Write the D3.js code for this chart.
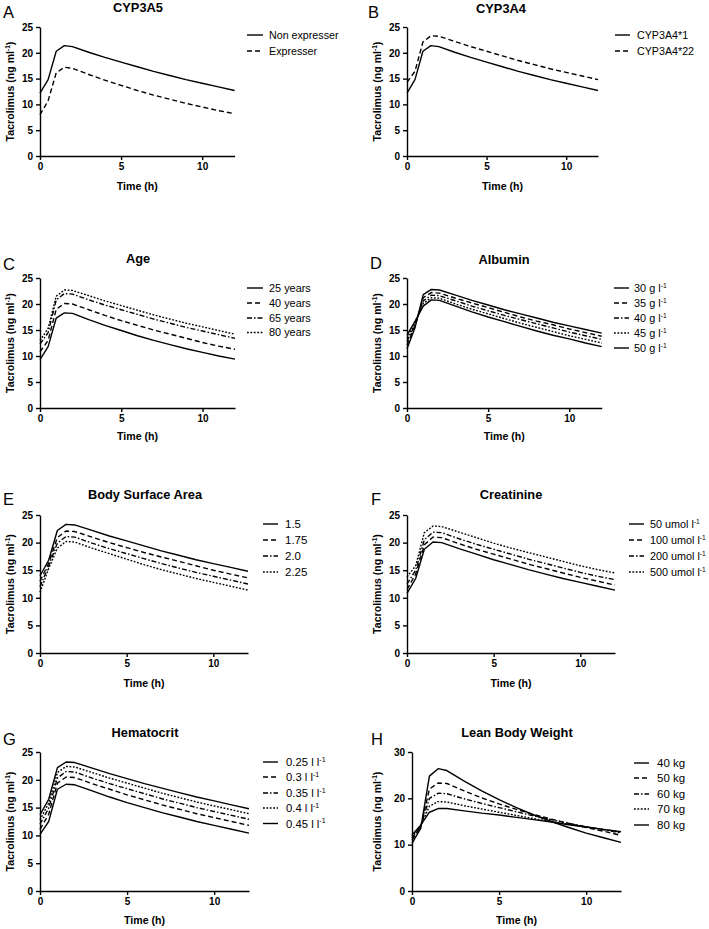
<!DOCTYPE html>
<html>
<head>
<meta charset="utf-8">
<script src="https://cdn.jsdelivr.net/npm/d3@7"></script>
<style>
  html, body { margin: 0; padding: 0; background: #fff; }
  svg { display: block; }
  text { font-family: "Liberation Sans", Arial, sans-serif; fill: #000; }
</style>
</head>
<body>
<svg id="chart" width="709" height="929"></svg>
<script>
// ---------------- DATA ----------------
const time = [0, 0.5, 1, 1.5, 2, 3, 4, 5, 6, 7, 8, 9, 10, 11, 12];
const xTicks = [0, 5, 10];
const yTicks25 = [0, 5, 10, 15, 20, 25];
const yTicks30 = [0, 10, 20, 30];

// A: CYP3A5
const cyp3a5Labels = ["Non expresser", "Expresser"];
const cyp3a5NonExpresser = [12.2, 14.8, 20.3, 21.4, 21.2, 20.1, 19.1, 18.2, 17.3, 16.4, 15.6, 14.8, 14.1, 13.4, 12.7];
const cyp3a5Expresser    = [8.0, 10.7, 16.1, 17.2, 17.0, 15.8, 14.7, 13.7, 12.7, 11.8, 11.0, 10.2, 9.5, 8.8, 8.2];

// B: CYP3A4
const cyp3a4Labels = ["CYP3A4*1", "CYP3A4*22"];
const cyp3a4star1  = [12.2, 14.8, 20.3, 21.4, 21.2, 20.1, 19.1, 18.2, 17.3, 16.4, 15.6, 14.8, 14.1, 13.4, 12.7];
const cyp3a4star22 = [14.3, 16.4, 22.1, 23.3, 23.2, 22.2, 21.2, 20.3, 19.4, 18.5, 17.7, 16.9, 16.2, 15.5, 14.8];

// C: Age
const ageLabels = ["25 years", "40 years", "65 years", "80 years"];
const age25 = [9.3, 11.8, 17.3, 18.3, 18.2, 17.0, 15.9, 14.9, 13.9, 13.0, 12.2, 11.4, 10.7, 10.0, 9.4];
const age40 = [10.8, 13.0, 19.0, 20.1, 20.0, 18.9, 17.8, 16.8, 15.9, 15.0, 14.2, 13.4, 12.6, 11.9, 11.3];
const age65 = [12.3, 14.5, 20.8, 22.0, 21.9, 20.8, 19.8, 18.9, 18.0, 17.1, 16.3, 15.5, 14.8, 14.1, 13.4];
const age80 = [13.0, 15.3, 21.5, 22.7, 22.6, 21.6, 20.6, 19.7, 18.8, 17.9, 17.1, 16.3, 15.6, 14.9, 14.2];

// D: Albumin
const albuminLabels = ["30 g l^-1", "35 g l^-1", "40 g l^-1", "45 g l^-1", "50 g l^-1"];
const alb30 = [11.4, 15.5, 21.8, 22.8, 22.7, 21.7, 20.7, 19.8, 18.9, 18.1, 17.3, 16.5, 15.8, 15.1, 14.4];
const alb35 = [12.1, 15.8, 21.2, 22.2, 22.1, 21.1, 20.2, 19.3, 18.4, 17.5, 16.7, 16.0, 15.2, 14.5, 13.8];
const alb40 = [12.8, 16.1, 20.6, 21.7, 21.6, 20.6, 19.6, 18.7, 17.8, 17.0, 16.2, 15.4, 14.6, 13.9, 13.2];
const alb45 = [13.4, 16.4, 20.1, 21.2, 21.1, 20.0, 19.0, 18.1, 17.2, 16.3, 15.5, 14.7, 13.9, 13.2, 12.5];
const alb50 = [14.0, 16.7, 19.6, 20.8, 20.7, 19.6, 18.5, 17.5, 16.6, 15.7, 14.8, 14.0, 13.3, 12.5, 11.8];

// E: Body Surface Area
const bsaLabels = ["1.5", "1.75", "2.0", "2.25"];
const bsa150 = [14.0, 16.8, 22.2, 23.3, 23.2, 22.2, 21.2, 20.3, 19.4, 18.5, 17.7, 16.9, 16.2, 15.5, 14.8];
const bsa175 = [13.0, 16.3, 20.9, 22.1, 22.0, 21.0, 20.0, 19.1, 18.2, 17.4, 16.6, 15.8, 15.0, 14.3, 13.6];
const bsa200 = [12.0, 15.8, 19.9, 21.1, 21.0, 19.9, 18.9, 18.0, 17.1, 16.2, 15.4, 14.6, 13.9, 13.2, 12.5];
const bsa225 = [11.0, 15.3, 19.0, 20.2, 20.1, 19.0, 18.0, 17.0, 16.0, 15.1, 14.3, 13.5, 12.8, 12.1, 11.4];

// F: Creatinine
const creatLabels = ["50 umol l^-1", "100 umol l^-1", "200 umol l^-1", "500 umol l^-1"];
const creat50  = [10.8, 13.5, 18.8, 20.1, 20.0, 18.9, 17.9, 16.9, 16.0, 15.1, 14.3, 13.5, 12.8, 12.1, 11.4];
const creat100 = [11.5, 14.3, 19.6, 21.0, 20.9, 19.8, 18.8, 17.9, 17.0, 16.1, 15.3, 14.5, 13.7, 13.0, 12.3];
const creat200 = [12.5, 15.0, 20.5, 21.9, 21.8, 20.7, 19.7, 18.8, 17.9, 17.0, 16.2, 15.4, 14.6, 13.9, 13.3];
const creat500 = [13.8, 15.8, 21.8, 23.0, 22.9, 21.9, 20.9, 19.9, 19.0, 18.2, 17.4, 16.6, 15.8, 15.1, 14.5];

// G: Hematocrit
const hctLabels = ["0.25 l l^-1", "0.3 l l^-1", "0.35 l l^-1", "0.4 l l^-1", "0.45 l l^-1"];
const hct025 = [10.2, 12.5, 18.3, 19.2, 19.1, 18.0, 16.9, 15.9, 15.0, 14.1, 13.3, 12.5, 11.8, 11.1, 10.4];
const hct030 = [11.1, 13.8, 19.4, 20.5, 20.4, 19.3, 18.3, 17.3, 16.4, 15.5, 14.7, 13.9, 13.2, 12.5, 11.8];
const hct035 = [12.0, 14.9, 20.3, 21.5, 21.4, 20.3, 19.3, 18.4, 17.5, 16.6, 15.8, 15.0, 14.3, 13.6, 12.9];
const hct040 = [12.8, 15.8, 21.3, 22.4, 22.3, 21.3, 20.3, 19.4, 18.5, 17.6, 16.8, 16.0, 15.3, 14.6, 13.9];
const hct045 = [13.7, 16.5, 22.2, 23.2, 23.1, 22.1, 21.1, 20.2, 19.3, 18.5, 17.7, 16.9, 16.2, 15.5, 14.8];

// H: Lean Body Weight
const lbwLabels = ["40 kg", "50 kg", "60 kg", "70 kg", "80 kg"];
const lbw40 = [10.3, 13.5, 24.8, 26.4, 26.0, 23.7, 21.6, 19.7, 18.0, 16.4, 15.0, 13.7, 12.5, 11.5, 10.5];
const lbw50 = [11.0, 13.8, 22.0, 23.3, 23.2, 21.6, 20.1, 18.8, 17.6, 16.5, 15.5, 14.6, 13.7, 12.9, 12.0];
const lbw60 = [11.4, 14.0, 20.0, 21.1, 21.0, 19.9, 18.9, 18.0, 17.1, 16.2, 15.4, 14.6, 13.9, 13.2, 12.5];
const lbw70 = [11.8, 14.0, 18.3, 19.3, 19.2, 18.4, 17.7, 17.0, 16.3, 15.6, 15.0, 14.4, 13.8, 13.3, 12.7];
const lbw80 = [12.1, 14.2, 17.0, 17.8, 17.8, 17.3, 16.8, 16.4, 15.9, 15.4, 14.9, 14.3, 13.8, 13.3, 12.8];

// ---------------- STYLES / LAYOUT ----------------
const dashes = {
  solid: null,
  dashed: "5,3",
  dashdot: "5,2,1.5,2",
  dotted: "1.8,1.6"
};
const yLabel = "Tacrolimus (ng ml^-1)";

const panels = [
  { letter: "A", title: "CYP3A5", labels: cyp3a5Labels, series: [cyp3a5NonExpresser, cyp3a5Expresser],
    styles: ["solid", "dashed"], ymax: 25, yticks: yTicks25,
    x0: 40, x1: 234.6, y0: 156, y1: 27, titleX: 138, titleY: 12, letterX: 3, letterY: 18,
    ylabX: 10.5, timeY: 190, legLine: [247, 263], legText: 269, legRows: [35, 51], legFont: 10.7 },
  { letter: "B", title: "CYP3A4", labels: cyp3a4Labels, series: [cyp3a4star1, cyp3a4star22],
    styles: ["solid", "dashed"], ymax: 25, yticks: yTicks25,
    x0: 407, x1: 598, y0: 156, y1: 27, titleX: 501, titleY: 13, letterX: 368, letterY: 18,
    ylabX: 377, timeY: 190, legLine: [615, 630], legText: 637, legRows: [35, 51], legFont: 10.7 },
  { letter: "C", title: "Age", labels: ageLabels, series: [age25, age40, age65, age80],
    styles: ["solid", "dashed", "dashdot", "dotted"], ymax: 25, yticks: yTicks25,
    x0: 40, x1: 235, y0: 408, y1: 278, titleX: 138, titleY: 263, letterX: 3, letterY: 270,
    ylabX: 10.5, timeY: 440, legLine: [247, 263], legText: 269, legRows: [288, 303, 318, 332.5], legFont: 10.9 },
  { letter: "D", title: "Albumin", labels: albuminLabels, series: [alb30, alb35, alb40, alb45, alb50],
    styles: ["solid", "dashed", "dashdot", "dotted", "solid"], ymax: 25, yticks: yTicks25,
    x0: 407, x1: 601.7, y0: 408, y1: 278, titleX: 504, titleY: 264, letterX: 370, letterY: 269,
    ylabX: 377, timeY: 440, legLine: [614, 629], legText: 634, legRows: [288, 303, 318, 333, 348], legFont: 10.9 },
  { letter: "E", title: "Body Surface Area", labels: bsaLabels, series: [bsa150, bsa175, bsa200, bsa225],
    styles: ["solid", "dashed", "dashdot", "dotted"], ymax: 25, yticks: yTicks25,
    x0: 40, x1: 248, y0: 653, y1: 515, titleX: 145, titleY: 499, letterX: 3, letterY: 505,
    ylabX: 10.5, timeY: 687, legLine: [263, 278], legText: 285, legRows: [524, 540, 556, 572], legFont: 11.5 },
  { letter: "F", title: "Creatinine", labels: creatLabels, series: [creat50, creat100, creat200, creat500],
    styles: ["solid", "dashed", "dashdot", "dotted"], ymax: 25, yticks: yTicks25,
    x0: 407, x1: 615, y0: 653, y1: 515, titleX: 511, titleY: 499, letterX: 371, letterY: 505,
    ylabX: 377, timeY: 687, legLine: [629, 644], legText: 650, legRows: [524, 540, 556, 572], legFont: 10.8 },
  { letter: "G", title: "Hematocrit", labels: hctLabels, series: [hct025, hct030, hct035, hct040, hct045],
    styles: ["solid", "dashed", "dashdot", "dotted", "solid"], ymax: 25, yticks: yTicks25,
    x0: 40, x1: 249, y0: 891, y1: 752, titleX: 145, titleY: 737, letterX: 3, letterY: 745,
    ylabX: 10, timeY: 924, legLine: [263, 278], legText: 286, legRows: [762, 777, 793, 808, 823.5], legFont: 11.3 },
  { letter: "H", title: "Lean Body Weight", labels: lbwLabels, series: [lbw40, lbw50, lbw60, lbw70, lbw80],
    styles: ["solid", "dashed", "dashdot", "dotted", "solid"], ymax: 30, yticks: yTicks30,
    x0: 412, x1: 621, y0: 891, y1: 752, titleX: 517, titleY: 737, letterX: 371, letterY: 745,
    ylabX: 377, timeY: 924, legLine: [634, 649], legText: 657, legRows: [763, 778, 794, 809, 825], legFont: 11.5 }
];

// ---------------- DRAW ----------------
const svg = d3.select("#chart");

// write text with "^-1" superscript support
function richText(sel, str, fontSize) {
  const parts = str.split("^");
  sel.append("tspan").text(parts[0]);
  if (parts.length > 1) {
    const rest = parts[1];
    const m = rest.match(/^(-?\d+)(.*)$/);
    sel.append("tspan").attr("font-size", fontSize * 0.62).attr("dy", -fontSize * 0.38).text(m[1]);
    if (m[2]) sel.append("tspan").attr("dy", fontSize * 0.38).text(m[2]);
  }
}

panels.forEach(p => {
  const g = svg.append("g");
  const x = d3.scaleLinear().domain([0, 12]).range([p.x0, p.x1]);
  const y = d3.scaleLinear().domain([0, p.ymax]).range([p.y0, p.y1]);

  // axes
  const xAx = g.append("g").attr("transform", `translate(0,${p.y0})`)
    .call(d3.axisBottom(x).tickValues(xTicks).tickSize(4).tickSizeOuter(0).tickPadding(3));
  const yAx = g.append("g").attr("transform", `translate(${p.x0},0)`)
    .call(d3.axisLeft(y).tickValues(p.yticks).tickSize(4).tickSizeOuter(0).tickPadding(3));
  [xAx, yAx].forEach(a => {
    a.select(".domain").attr("stroke", "#000").attr("stroke-width", 1.4);
    a.selectAll(".tick line").attr("stroke", "#000").attr("stroke-width", 1.4);
    a.selectAll(".tick text").attr("font-size", 10).attr("font-weight", "bold")
      .attr("font-family", "'Liberation Sans', Arial, sans-serif").attr("fill", "#000");
  });

  // lines
  const line = d3.line().x((d, i) => x(time[i])).y(d => y(d));
  p.series.forEach((s, i) => {
    g.append("path").attr("d", line(s)).attr("fill", "none")
      .attr("stroke", "#000").attr("stroke-width", 1.4)
      .attr("stroke-linejoin", "round")
      .attr("stroke-dasharray", dashes[p.styles[i]]);
  });

  // title
  g.append("text").attr("x", p.titleX).attr("y", p.titleY).attr("text-anchor", "middle")
    .attr("font-size", 12.8).attr("font-weight", "bold").text(p.title);
  // panel letter
  g.append("text").attr("x", p.letterX).attr("y", p.letterY)
    .attr("font-size", 16.5).text(p.letter);

  // x axis title
  g.append("text").attr("x", (p.x0 + p.x1) / 2).attr("y", p.timeY).attr("text-anchor", "middle")
    .attr("font-size", 10.6).attr("font-weight", "bold").text("Time (h)");
  // y axis title
  const yt = g.append("text")
    .attr("transform", `translate(${p.ylabX},${(p.y0 + p.y1) / 2}) rotate(-90)`)
    .attr("text-anchor", "middle").attr("dy", "0.35em")
    .attr("font-size", 10.6).attr("font-weight", "bold");
  richText(yt, yLabel, 10.6);

  // legend
  p.labels.forEach((lab, i) => {
    const ry = p.legRows[i];
    g.append("line").attr("x1", p.legLine[0]).attr("x2", p.legLine[1])
      .attr("y1", ry).attr("y2", ry).attr("stroke", "#000").attr("stroke-width", 1.4)
      .attr("stroke-dasharray", dashes[p.styles[i]]);
    const t = g.append("text").attr("x", p.legText).attr("y", ry).attr("dy", "0.36em")
      .attr("font-size", p.legFont);
    richText(t, lab, p.legFont);
  });
});
</script>
</body>
</html>
